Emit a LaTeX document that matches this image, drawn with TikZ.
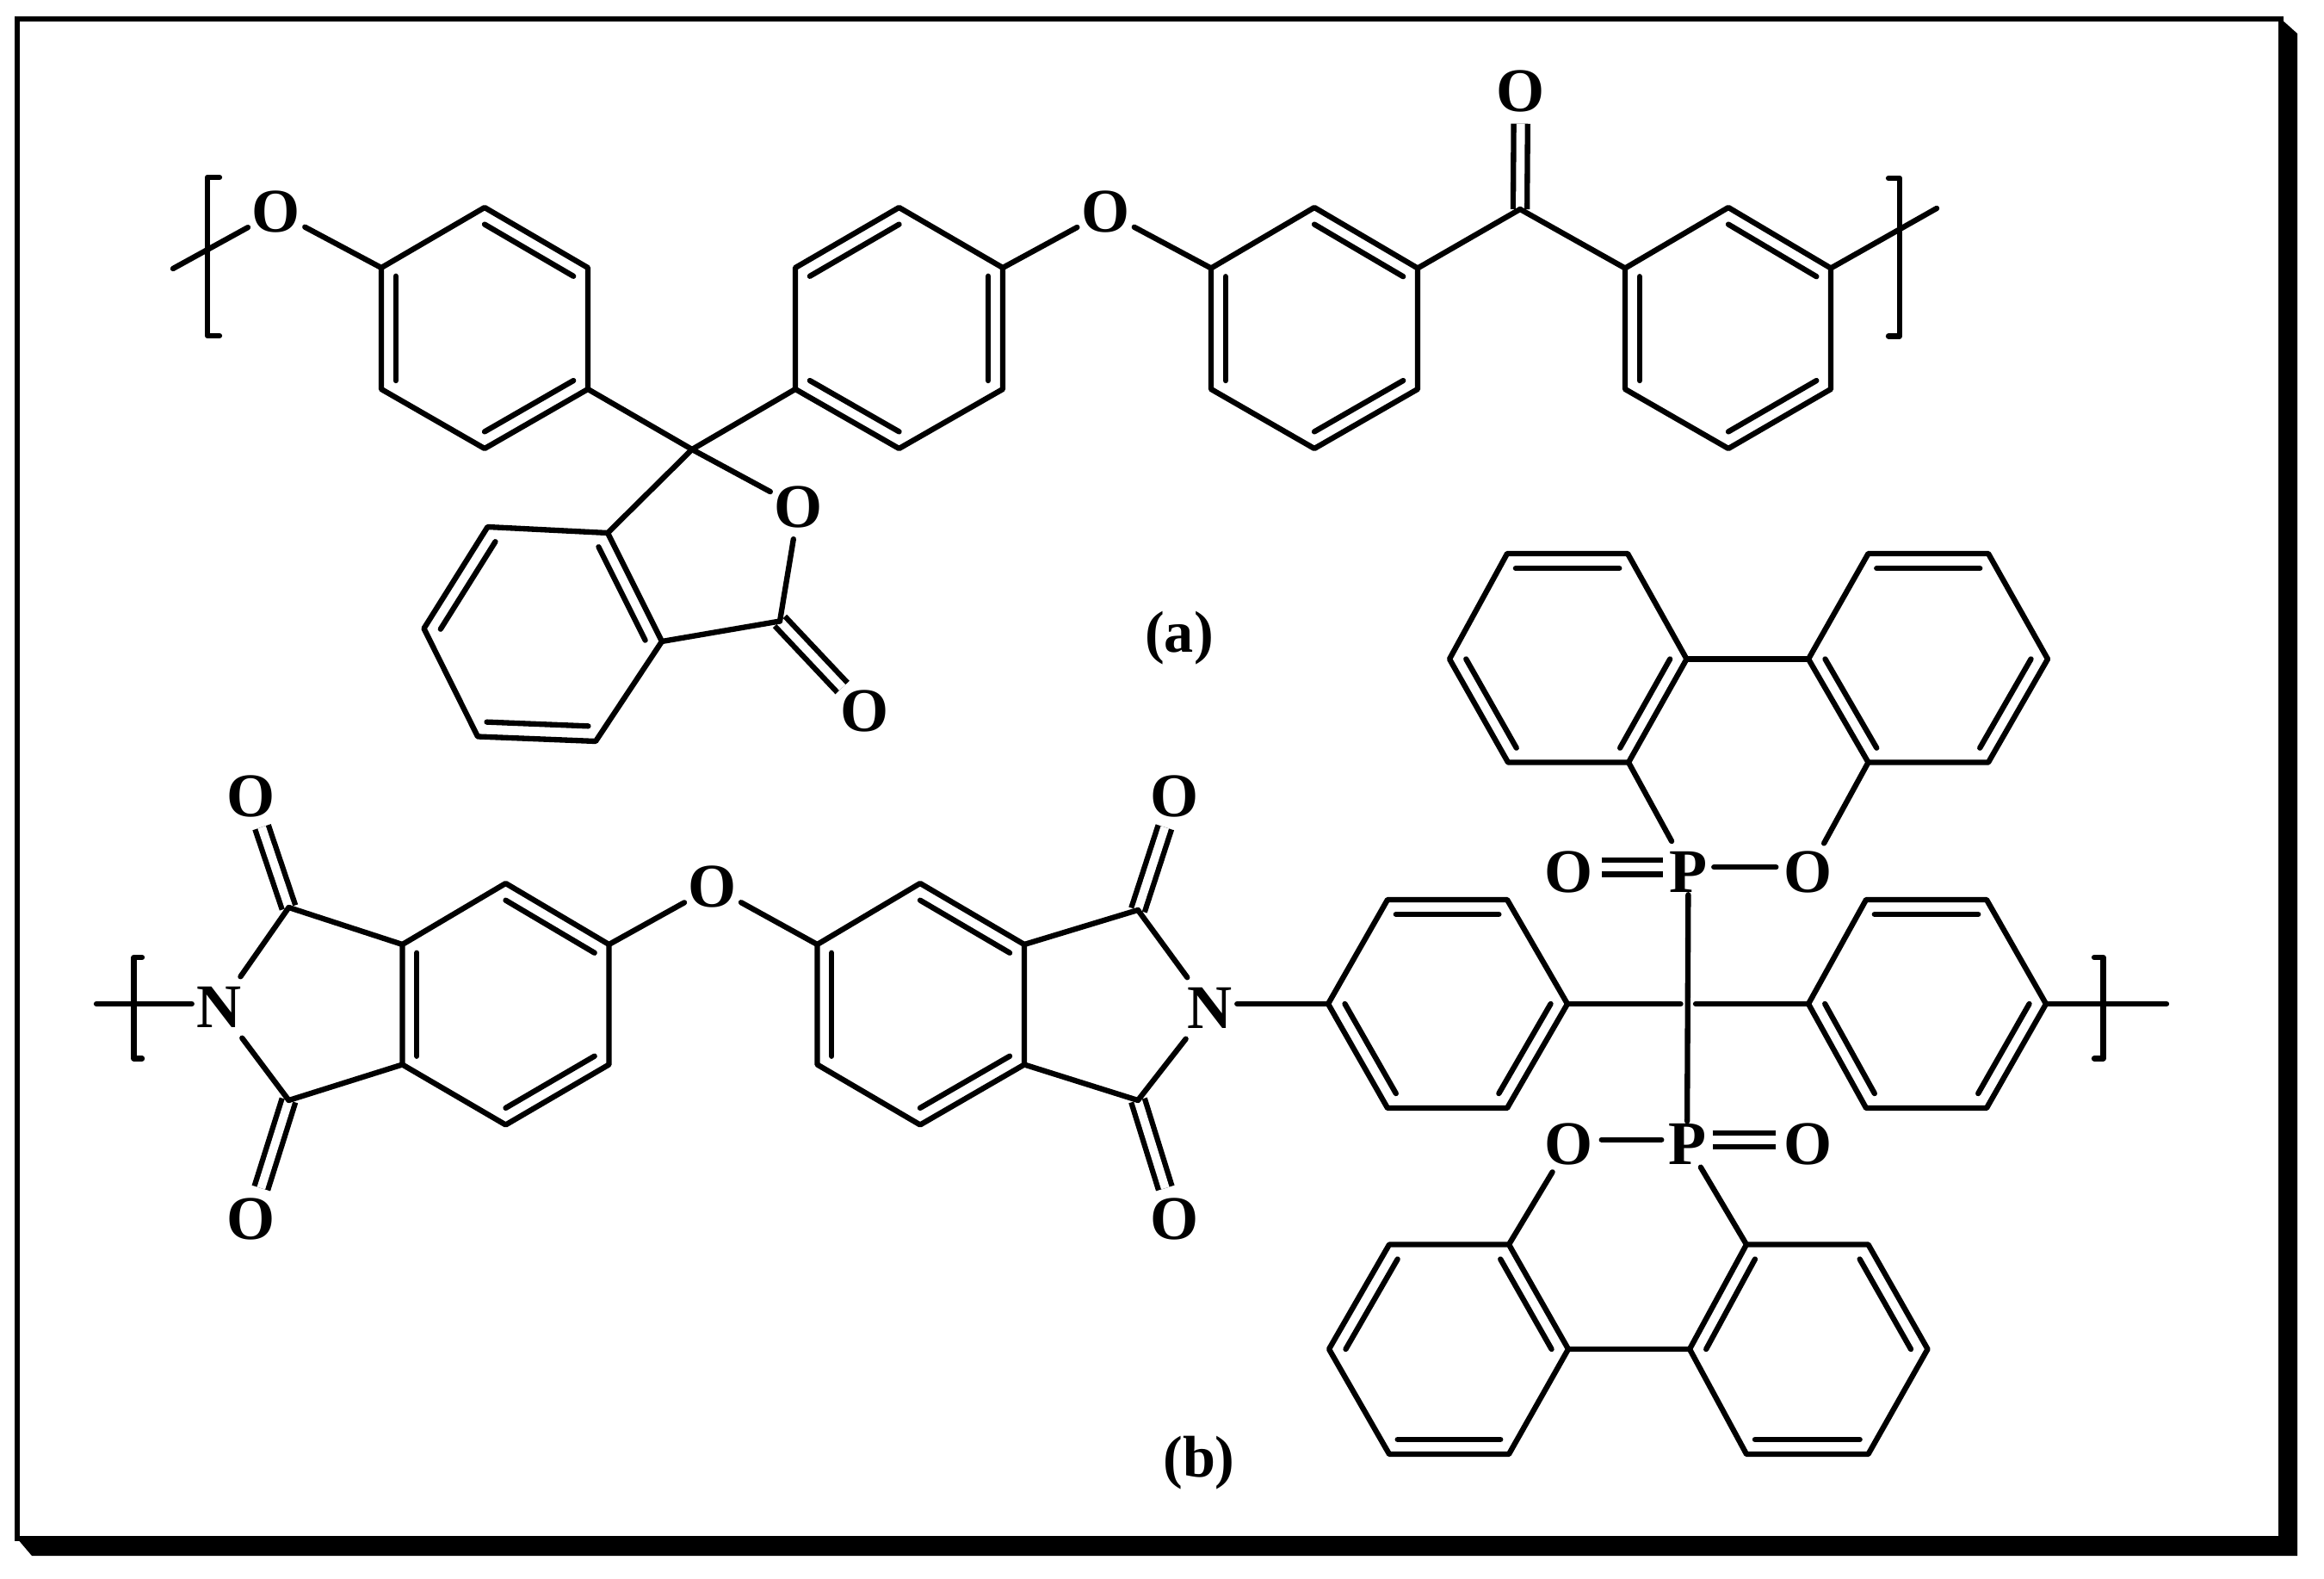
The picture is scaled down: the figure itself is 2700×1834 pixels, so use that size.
\documentclass[tikz,border=0pt]{standalone}
\usepackage{fontspec}
\setmainfont{Liberation Serif}
\usetikzlibrary{calc}
\begin{document}
\begin{tikzpicture}
	[x=0.01cm,y=-0.01cm,
	bond/.style={line width=1.8pt,line cap=round,line join=round},
	dblbond/.style={line width=1.8pt,double,double distance=2.8pt},
	atom/.style={circle,minimum size=0.64cm,inner sep=0pt,font=\fontsize{20.5}{24}\selectfont\bfseries},
	hetero/.style={atom,rectangle,minimum size=0pt},
	tag/.style={inner sep=0pt,font=\fontsize{19.4}{24}\selectfont\bfseries}]
	\useasboundingbox(0,0)rectangle(2700,1834);
	% frame
	\fill(2650,22)--(2669,39)--(2669,1807)--(37,1807)--(20,1787)--(2650,1787)--cycle;
	\draw[line width=1.7pt](20,22)rectangle(2650,1787);
	% rings of chain a
	\coordinate(a0)at(563,381);
	\coordinate(a1)at(563,241);\coordinate(a2)at(683,311);\coordinate(a3)at(683,452);
	\coordinate(a4)at(563,521);\coordinate(a5)at(443,452);\coordinate(a6)at(443,311);
	\coordinate(b0)at(1044.5,381);
	\coordinate(b1)at(1044.5,241);\coordinate(b2)at(1165,311);\coordinate(b3)at(1165,452);
	\coordinate(b4)at(1044.5,521);\coordinate(b5)at(924,452);\coordinate(b6)at(924,311);
	\coordinate(c0)at(1527,381);
	\coordinate(c1)at(1527,241);\coordinate(c2)at(1647,311.5);\coordinate(c3)at(1647,452);
	\coordinate(c4)at(1527,521);\coordinate(c5)at(1407,452);\coordinate(c6)at(1407,311.5);
	\coordinate(d0)at(2008,381);
	\coordinate(d1)at(2008,241);\coordinate(d2)at(2127,311.5);\coordinate(d3)at(2127,452);
	\coordinate(d4)at(2008,521);\coordinate(d5)at(1888,452);\coordinate(d6)at(1888,311.5);
	\coordinate(m0)at(630.5,735);
	\coordinate(m1)at(566.5,612);\coordinate(m2)at(706,619);\coordinate(m3)at(769,745);
	\coordinate(m4)at(692,861);\coordinate(m5)at(555,855.5);\coordinate(m6)at(492.5,730);
	% rings of chain b
	\coordinate(e0)at(587.5,1166.5);
	\coordinate(e1)at(587.5,1026);\coordinate(e2)at(707.5,1097);\coordinate(e3)at(707.5,1236.5);
	\coordinate(e4)at(587.5,1306.5);\coordinate(e5)at(467.5,1236.5);\coordinate(e6)at(467.5,1097);
	\coordinate(f0)at(1069,1166.5);
	\coordinate(f1)at(1069,1026);\coordinate(f2)at(1190,1097);\coordinate(f3)at(1190,1236.5);
	\coordinate(f4)at(1069,1306.5);\coordinate(f5)at(949.5,1236.5);\coordinate(f6)at(949.5,1097);
	\coordinate(g0)at(1821.5,765.5);
	\coordinate(g1)at(1751,643);\coordinate(g2)at(1891,643);\coordinate(g3)at(1959.5,765.5);
	\coordinate(g4)at(1892,885.5);\coordinate(g5)at(1752,885.5);\coordinate(g6)at(1684,765.5);
	\coordinate(h0)at(2240,765.5);
	\coordinate(h1)at(2170.5,643);\coordinate(h2)at(2310,643);\coordinate(h3)at(2379,765.5);
	\coordinate(h4)at(2310,885.5);\coordinate(h5)at(2170.5,885.5);\coordinate(h6)at(2101,765.5);
	\coordinate(i0)at(1682,1166);
	\coordinate(i1)at(1612,1045);\coordinate(i2)at(1751,1045);\coordinate(i3)at(1821,1166);
	\coordinate(i4)at(1751,1287);\coordinate(i5)at(1612,1287);\coordinate(i6)at(1543,1166);
	\coordinate(j0)at(2238,1166);
	\coordinate(j1)at(2168,1045);\coordinate(j2)at(2308,1045);\coordinate(j3)at(2377,1166);
	\coordinate(j4)at(2308,1287);\coordinate(j5)at(2168,1287);\coordinate(j6)at(2101,1166);
	\coordinate(k0)at(1683,1567);
	\coordinate(k1)at(1614,1445.5);\coordinate(k2)at(1753,1445.5);\coordinate(k3)at(1822,1567);
	\coordinate(k4)at(1753,1689);\coordinate(k5)at(1614,1689);\coordinate(k6)at(1544,1567);
	\coordinate(l0)at(2100,1567);
	\coordinate(l1)at(2029,1445.5);\coordinate(l2)at(2170.5,1445.5);\coordinate(l3)at(2239.5,1567);
	\coordinate(l4)at(2170.5,1689);\coordinate(l5)at(2029,1689);\coordinate(l6)at(1963,1567);
	% other carbons and free ends
	\coordinate(spiro)at(804,522);\coordinate(lacto)at(906,721.5);\coordinate(keto)at(1766,243);
	\coordinate(ima)at(335.5,1054);\coordinate(imb)at(335.5,1278);
	\coordinate(imc)at(1322,1057);\coordinate(imd)at(1322,1278);
	\coordinate(crossl)at(1952.5,1166);\coordinate(crossr)at(1970,1166);
	\coordinate(enda)at(201,312);\coordinate(endb)at(2250,242);
	\coordinate(endc)at(112,1166);\coordinate(endd)at(2517,1166);
	% atoms
	\node[atom,name=oa]at(321,246){O};
	\node[atom,name=ob]at(1284.5,246){O};
	\node[atom,name=oc]at(1767,106){O};
	\node[atom,name=od]at(928,589){O};
	\node[atom,name=oe]at(1004.5,826){O};
	\node[atom,name=of]at(292,925){O};
	\node[atom,name=og]at(292,1416){O};
	\node[atom,name=oh]at(828,1030){O};
	\node[atom,name=oi]at(1365,925){O};
	\node[atom,name=oj]at(1365,1416){O};
	\node[atom,name=ok]at(1823,1012.5){O};
	\node[atom,name=ol]at(2101,1012.5){O};
	\node[atom,name=om]at(1823,1329){O};
	\node[atom,name=on]at(2100.5,1329){O};
	\node[hetero,name=na,minimum width=0.62cm,minimum height=0.7cm]at(254.5,1170){N};
	\node[hetero,name=nb,minimum width=0.62cm,minimum height=0.7cm]at(1405.5,1171){N};
	\node[hetero,name=pa,minimum width=0.58cm,minimum height=0.52cm]at(1961.5,1012.5){P};
	\node[hetero,name=pb,minimum width=0.58cm,minimum height=0.52cm]at(1960,1329){P};
	\node[tag,name=labela]at(1370,741){(a)};
	\node[tag,name=labelb]at(1393,1699){(b)};
	% double bonds to oxygen
	\draw[dblbond](oc)--(keto);
	\draw[dblbond](oe)--(lacto);
	\draw[dblbond](of)--(ima);
	\draw[dblbond](og)--(imb);
	\draw[dblbond](oi)--(imc);
	\draw[dblbond](oj)--(imd);
	\draw[dblbond](ok.east|-pa.170)--(pa.170);
	\draw[dblbond](pb.10)--(pb.10-|on.west);
	% rings
	\foreach \ring in {a,b,c,d,m,e,f,g,h,i,j,k,l}
		\draw[bond](\ring1)--(\ring2)--(\ring3)--(\ring4)--(\ring5)--(\ring6)--cycle;
	\foreach \ring/\va/\vb in {a/1/2,a/3/4,a/5/6,b/1/6,b/2/3,b/4/5,c/1/2,c/3/4,c/5/6,d/1/2,d/3/4,d/5/6,
		m/1/6,m/2/3,m/4/5,e/1/2,e/3/4,e/5/6,f/1/2,f/3/4,f/5/6,g/1/2,g/3/4,g/5/6,h/1/2,h/3/4,h/5/6,
		i/1/2,i/3/4,i/5/6,j/1/2,j/3/4,j/5/6,k/1/6,k/2/3,k/4/5,l/1/6,l/2/3,l/4/5}
		\draw[bond]($(\ring0)!.86!(\ring\va)$)--($(\ring0)!.86!(\ring\vb)$);
	% single bonds
	\draw[bond](enda)--(oa);
	\draw[bond](oa)--(a6);
	\draw[bond](a3)--(spiro);
	\draw[bond](b5)--(spiro);
	\draw[bond](spiro)--(m2);
	\draw[bond](spiro)--(od);
	\draw[bond](od)--(lacto);
	\draw[bond](lacto)--(m3);
	\draw[bond](b2)--(ob);
	\draw[bond](ob)--(c6);
	\draw[bond](c2)--(keto);
	\draw[bond](keto)--(d6);
	\draw[bond](d2)--(endb);
	\draw[bond](endc)--(endc-|na.west);
	\draw[bond](na)--(ima);
	\draw[bond](na)--(imb);
	\draw[bond](ima)--(e6);
	\draw[bond](imb)--(e5);
	\draw[bond](e2)--(oh);
	\draw[bond](oh)--(f6);
	\draw[bond](f2)--(imc);
	\draw[bond](f3)--(imd);
	\draw[bond](imc)--(nb);
	\draw[bond](imd)--(nb);
	\draw[bond](nb.east|-i6)--(i6);
	\draw[bond](i3)--(crossl);
	\draw[bond](crossr)--(j6);
	\draw[bond](j3)--(endd);
	\draw[bond](g3)--(h6);
	\draw[bond](k3)--(l6);
	\draw[bond,shorten >=.1cm](g4)--(pa);
	\draw[bond](pa.10)--(pa.10-|ol.west);
	\draw[bond](h5)--(ol);
	\draw[bond](pa)--(pb);
	\draw[bond](om.east|-pb.170)--(pb.170);
	\draw[bond](om)--(k2);
	\draw[bond](pb)--(l1);
	% brackets
	\draw[bond](255,206)--(241,206)--(241,390)--(255,390);
	\draw[bond](2194,207)--(2207,207)--(2207,390.5)--(2194,390.5);
	\draw[bond](165,1112)--(155.5,1112)--(155.5,1229.5)--(165,1229.5);
	\draw[bond](2433,1112)--(2443.5,1112)--(2443.5,1229.5)--(2433,1229.5);
\end{tikzpicture}
\end{document}
